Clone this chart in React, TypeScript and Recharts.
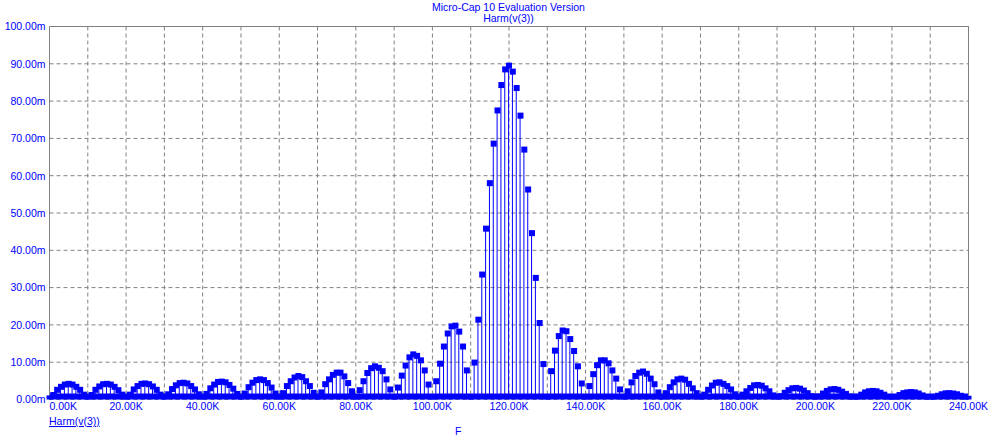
import {
  Bar,
  CartesianGrid,
  ComposedChart,
  ReferenceArea,
  ReferenceLine,
  Scatter,
  XAxis,
  YAxis,
} from "recharts";

const BLUE = "#0000ff";
const GRID = "#808080";
const FONT = '"Liberation Sans", Arial, sans-serif';

// frequency ticks in kHz, values in mV
const xTicks = [0, 10, 20, 30, 40, 50, 60, 70, 80, 90, 100, 110, 120, 130, 140, 150, 160, 170, 180, 190, 200, 210, 220, 230, 240];
const yTicks = [0, 10, 20, 30, 40, 50, 60, 70, 80, 90, 100];

// 0K .. 99K
const harmLow = [
  0.3, 1.2, 2.6, 3.4, 4.0, 4.2, 4.0, 3.4, 2.6, 1.3,
  0.3, 1.2, 2.6, 3.5, 4.1, 4.2, 4.0, 3.4, 2.5, 1.3,
  0.3, 1.3, 2.7, 3.6, 4.2, 4.3, 4.1, 3.5, 2.6, 1.3,
  0.3, 1.4, 2.8, 3.8, 4.4, 4.5, 4.3, 3.6, 2.7, 1.4,
  0.3, 1.5, 3.0, 4.0, 4.7, 4.8, 4.6, 3.9, 2.9, 1.5,
  0.3, 1.6, 3.3, 4.5, 5.2, 5.4, 5.2, 4.4, 3.2, 1.6,
  0.3, 1.7, 3.6, 4.9, 5.9, 6.3, 6.0, 4.9, 3.6, 1.8,
  0.3, 1.9, 4.1, 5.4, 6.6, 7.2, 7.2, 6.2, 4.4, 2.2,
  0.3, 2.5, 4.9, 7.1, 8.4, 8.9, 8.5, 7.6, 5.4, 2.7,
  0.4, 3.2, 6.4, 9.1, 11.3, 12.1, 11.7, 10.5, 7.8, 4.0,
];

// 100K .. 139K
const harmMid = [
  0.4, 4.9, 9.6, 14.2, 17.7, 19.6, 19.8, 18.2, 14.2, 7.8,
  0.5, 9.9, 21.4, 33.5, 45.8, 58.0, 68.6, 77.5, 84.3, 88.5,
  89.5, 87.9, 83.5, 76.1, 67.0, 56.3, 44.6, 32.6, 20.5, 9.5,
  0.5, 7.6, 13.1, 17.0, 18.5, 18.3, 16.2, 13.0, 8.9, 4.3,
];

// 140K .. 240K
const harmHigh = [
  0.4, 3.6, 6.8, 9.2, 10.5, 10.5, 9.7, 7.8, 5.6, 2.7,
  0.4, 2.2, 4.6, 6.3, 7.2, 7.5, 6.9, 5.6, 4.1, 1.9,
  0.3, 1.7, 3.3, 4.6, 5.4, 5.6, 5.3, 4.2, 3.0, 1.7,
  0.3, 1.3, 2.6, 3.75, 4.5, 4.6, 4.2, 3.6, 2.7, 1.4,
  0.3, 1.3, 2.2, 3.1, 3.8, 3.9, 3.7, 3.0, 2.2, 1.1,
  0.3, 0.9, 1.8, 2.5, 3.0, 3.1, 2.9, 2.4, 1.7, 0.9,
  0.2, 0.8, 1.6, 2.3, 2.7, 2.8, 2.6, 2.1, 1.5, 0.8,
  0.2, 0.7, 1.3, 1.9, 2.2, 2.3, 2.2, 1.8, 1.3, 0.7,
  0.2, 0.6, 1.2, 1.7, 1.9, 2.0, 1.9, 1.6, 1.1, 0.6,
  0.2, 0.5, 1.0, 1.4, 1.65, 1.7, 1.6, 1.4, 1.0, 0.5,
  0.2,
];

const harm = [...harmLow, ...harmMid, ...harmHigh];
const data = harm.map((v, i) => ({ f: i, v }));

function XTick(props: any) {
  const { x, y, payload } = props;
  const val = payload.value as number;
  if (val % 20 !== 0) return <g />;
  return (
    <text
      x={x}
      y={y}
      dy={8}
      textAnchor={val === 0 ? "start" : "middle"}
      fill={BLUE}
      fontSize={10.5}
      fontFamily={FONT}
    >
      {val.toFixed(2)}K
    </text>
  );
}

function YTick(props: any) {
  const { x, y, payload } = props;
  return (
    <text x={x} y={y} dy={3.8} textAnchor="end" fill={BLUE} fontSize={10.5} fontFamily={FONT}>
      {(payload.value as number).toFixed(2)}m
    </text>
  );
}

function Marker(props: any) {
  const { cx, cy } = props;
  return <rect x={cx - 3} y={cy - 3} width={6} height={6} fill={BLUE} />;
}

export default function App() {
  return (
    <div style={{ position: "absolute", left: 0, top: 0, width: 995, height: 444, background: "#fff" }}>
      <ComposedChart
        width={995}
        height={444}
        data={data}
        margin={{ top: 26.5, right: 26.5, bottom: 24.5, left: 0 }}
      >
        <CartesianGrid stroke={GRID} strokeDasharray="4 3" />
        <XAxis
          dataKey="f"
          type="number"
          domain={[0, 240]}
          ticks={xTicks}
          interval={0}
          height={20}
          axisLine={false}
          tickLine={false}
          tickSize={0}
          tickMargin={2}
          tick={<XTick />}
        />
        <YAxis
          type="number"
          domain={[0, 100]}
          ticks={yTicks}
          interval={0}
          width={49.5}
          axisLine={false}
          tickLine={false}
          tickSize={2}
          tickMargin={2}
          tick={<YTick />}
          allowDataOverflow
        />
        <ReferenceLine x={0} stroke={GRID} />
        <ReferenceLine x={240} stroke={GRID} />
        <ReferenceLine y={100} stroke={GRID} />
        <ReferenceArea y1={0} y2={1.6} fill={BLUE} fillOpacity={1} stroke="none" />
        <Bar dataKey="v" barSize={1} fill={BLUE} isAnimationActive={false} />
        <Scatter dataKey="v" fill={BLUE} shape={<Marker />} isAnimationActive={false} />
      </ComposedChart>
      <svg
        width={995}
        height={444}
        style={{ position: "absolute", left: 0, top: 0, pointerEvents: "none" }}
      >
        <text x={508.5} y={11} textAnchor="middle" fill={BLUE} fontSize={10.5} fontFamily={FONT}>
          Micro-Cap 10 Evaluation Version
        </text>
        <text x={508.5} y={22} textAnchor="middle" fill={BLUE} fontSize={10.5} fontFamily={FONT}>
          Harm(v(3))
        </text>
        <text x={49} y={425} fill={BLUE} fontSize={10.5} fontFamily={FONT} textDecoration="underline">
          Harm(v(3))
        </text>
        <text x={455} y={435} fill={BLUE} fontSize={10.5} fontFamily={FONT}>
          F
        </text>
      </svg>
    </div>
  );
}
